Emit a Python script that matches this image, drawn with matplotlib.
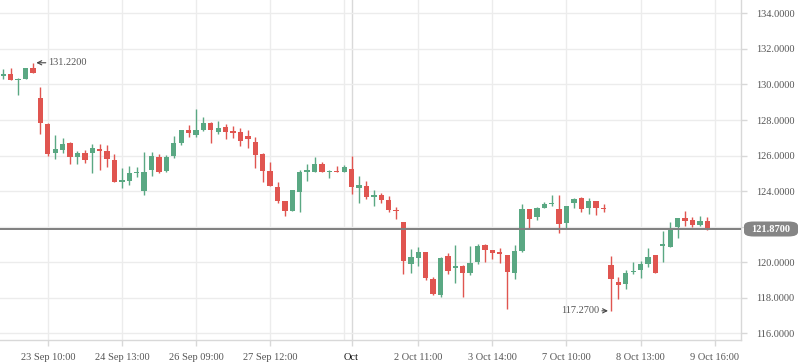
import matplotlib.pyplot as plt
from matplotlib.patches import FancyBboxPatch

opens = [130.49, 130.59, 130.27, 130.32, 130.92, 129.24, 127.77, 126.16, 126.31, 126.71,
         125.93, 126.14, 126.14, 126.35, 126.25, 125.75, 124.51, 124.57, 125.02, 124.01,
         125.19, 125.92, 125.13, 125.97, 126.71, 127.44, 127.16, 127.44, 127.83, 127.32,
         127.61, 127.38, 127.32, 127.10, 126.76, 126.09, 125.13, 124.23, 123.44, 122.88,
         123.94, 125.07, 125.07, 125.52, 125.07, 125.13, 125.07, 125.24, 124.19, 124.29,
         123.68, 123.78, 123.50, 122.93, 122.26, 119.91, 120.24, 120.58, 119.06, 118.16,
         120.35, 119.68, 119.79, 119.39, 120.01, 120.97, 120.69, 120.58, 120.41, 119.41,
         120.63, 122.99, 122.56, 123.05, 123.27, 122.99, 122.22, 123.33, 123.61, 123.07,
         123.44, 123.07, 119.84, 118.89, 118.79, 119.45, 119.56, 119.90, 120.41, 120.91,
         120.86, 121.98, 122.49, 122.37, 122.09, 122.32, 121.87]
highs = [130.87, 130.92, 130.38, 130.92, 131.22, 129.85, 127.81, 127.16, 126.99, 126.74,
         126.25, 126.31, 126.65, 126.65, 126.59, 126.09, 125.30, 125.41, 125.36, 126.20,
         126.20, 126.09, 126.03, 127.10, 127.44, 127.72, 128.62, 128.17, 127.89, 127.94,
         127.78, 127.66, 127.55, 127.44, 127.04, 126.14, 125.64, 124.51, 123.44, 124.06,
         125.19, 125.52, 125.92, 125.64, 125.19, 125.41, 125.47, 125.97, 124.85, 124.57,
         124.06, 123.89, 123.72, 123.11, 122.26, 120.75, 120.86, 120.58, 119.17, 120.30,
         120.52, 120.97, 119.84, 120.91, 121.02, 121.02, 120.69, 120.80, 120.41, 120.97,
         123.27, 122.99, 123.11, 123.39, 123.78, 123.78, 123.16, 123.61, 123.67, 123.61,
         123.44, 123.25, 120.35, 119.17, 119.56, 120.01, 120.07, 120.80, 120.41, 121.75,
         122.26, 122.49, 122.88, 122.54, 122.60, 122.54, 121.87]
lows = [130.30, 130.27, 129.42, 130.32, 130.66, 127.23, 125.99, 125.82, 126.16, 125.52,
        125.52, 125.58, 125.02, 125.19, 125.36, 124.51, 124.17, 124.34, 124.79, 123.78,
        124.85, 125.02, 125.07, 125.86, 126.60, 127.04, 127.04, 127.38, 126.71, 127.21,
        126.93, 126.99, 126.54, 126.42, 125.30, 124.51, 124.29, 123.33, 122.60, 122.88,
        122.82, 124.57, 125.07, 125.07, 124.74, 125.07, 125.07, 123.84, 123.33, 123.56,
        123.16, 123.33, 122.82, 122.43, 119.34, 119.39, 119.79, 119.00, 118.16, 118.04,
        119.34, 118.83, 118.04, 119.28, 119.90, 120.01, 120.18, 119.96, 117.35, 119.06,
        120.58, 121.94, 122.39, 123.05, 123.16, 121.66, 121.94, 123.05, 122.82, 122.71,
        122.65, 122.84, 117.27, 117.95, 118.51, 119.34, 119.11, 119.73, 119.39, 120.01,
        120.86, 121.36, 122.04, 121.98, 122.04, 121.81, 121.87]
closes = [130.59, 130.27, 130.30, 130.92, 130.66, 127.85, 126.09, 126.35, 126.65, 125.93,
          126.14, 125.75, 126.41, 126.25, 125.82, 124.51, 124.62, 125.02, 125.07, 125.07,
          125.99, 125.07, 125.92, 126.71, 127.44, 127.27, 127.44, 127.83, 127.44, 127.55,
          127.32, 127.27, 126.82, 126.93, 126.03, 125.13, 124.29, 123.44, 122.88, 124.06,
          125.07, 125.19, 125.52, 125.07, 125.13, 125.07, 125.36, 124.23, 124.34, 123.67,
          123.78, 123.50, 122.93, 122.88, 120.07, 120.30, 120.58, 119.12, 118.21, 120.24,
          119.51, 119.77, 119.39, 119.96, 120.91, 120.69, 120.52, 120.48, 119.47, 120.63,
          122.99, 122.45, 123.05, 123.27, 123.33, 122.17, 123.16, 123.56, 122.99, 123.44,
          123.07, 123.01, 119.07, 118.74, 119.39, 119.51, 119.90, 120.30, 119.39, 121.02,
          121.81, 122.49, 122.32, 122.09, 122.32, 121.92, 121.87]

tick_pos = [6, 16, 26, 36, 47, 56, 66, 76, 86, 96]
tick_labels = ["23 Sep 10:00", "24 Sep 13:00", "26 Sep 09:00", "27 Sep 12:00", "Oct",
               "2 Oct 11:00", "3 Oct 14:00", "7 Oct 10:00", "8 Oct 13:00", "9 Oct 16:00"]
grid_pos = [6, 16, 26, 36, 46, 56, 66, 76, 86, 96]
y_ticks = [116, 118, 120, 122, 124, 126, 128, 130, 132, 134]
last_price = 121.87

GREEN = "#5aa883"
RED = "#e05550"
GRID = "#ececec"
TXT = "#555555"
FONT = "Liberation Serif"

fig = plt.figure(figsize=(7.98, 3.63), dpi=100)
ax = fig.add_axes([0, 23 / 363, 741 / 798, 340 / 363])

x = list(range(len(opens)))
for i in x:
    o, h, l, c = opens[i], highs[i], lows[i], closes[i]
    if c > o:
        col = GREEN
    elif c < o:
        col = RED
    else:
        col = "#8a8a8a"
    ax.vlines(i, l, h, color=col, lw=1, zorder=3)
    bot = min(o, c)
    hgt = max(abs(c - o), 0.06)
    ax.bar(i, hgt, bottom=bot, width=0.72, color=col, zorder=3, linewidth=0)

for g in grid_pos:
    ax.axvline(g, color=GRID, lw=1, zorder=0)
ax.axvline(47, color="#d9d9d9", lw=1, zorder=0)
for yv in y_ticks:
    ax.axhline(yv, color=GRID, lw=1, zorder=0)

ax.axhline(last_price, color="#7f7f7f", lw=1.4, zorder=4)

ax.set_xlim(-0.45, 99.55)
ax.set_ylim(115.63, 134.75)

ax.yaxis.tick_right()
ax.set_yticks(y_ticks)
# the 122 label sits under the last-price tag
ax.set_yticklabels(["" if v == 122 else f"{v:.4f}" for v in y_ticks],
                   fontsize=7.5, family=FONT, color=TXT)
ax.set_xticks(tick_pos)
ax.set_xticklabels(tick_labels, fontsize=7.5, family=FONT, color=TXT)
ax.get_xticklabels()[4].set_color("#111111")
ax.tick_params(axis="both", length=4, color="#d8d8d8", width=1)
ax.tick_params(axis="y", pad=7)
ax.tick_params(axis="x", pad=5)

for s in ["top", "left"]:
    ax.spines[s].set_visible(False)
for s in ["right", "bottom"]:
    ax.spines[s].set_color("#d8d8d8")
    ax.spines[s].set_linewidth(1)

# high / low markers
ax.annotate("131.2200", xy=(4.45, 131.22), xytext=(6.1, 131.22), fontsize=7.5, family=FONT,
            color=TXT, va="center", ha="left",
            arrowprops=dict(arrowstyle="->", color="#444444", lw=0.8, shrinkA=0, shrinkB=0))
ax.annotate("117.2700", xy=(81.6, 117.27), xytext=(80.4, 117.27), fontsize=7.5, family=FONT,
            color=TXT, va="center", ha="right",
            arrowprops=dict(arrowstyle="->", color="#444444", lw=0.8, shrinkA=0, shrinkB=0))

# last price tag on the right axis
tag = FancyBboxPatch((744 / 798, (363 - 236.5) / 363), 54 / 798, 15 / 363,
                     boxstyle="round,pad=0,rounding_size=0.012", transform=fig.transFigure,
                     facecolor="#858585", edgecolor="none", zorder=5)
fig.patches.append(tag)
fig.text(771 / 798, (363 - 229) / 363, "121.8700", ha="center", va="center", fontsize=7.5,
         family=FONT, color="white", fontweight="bold", zorder=6)

fig.savefig("out.png", dpi=100)
